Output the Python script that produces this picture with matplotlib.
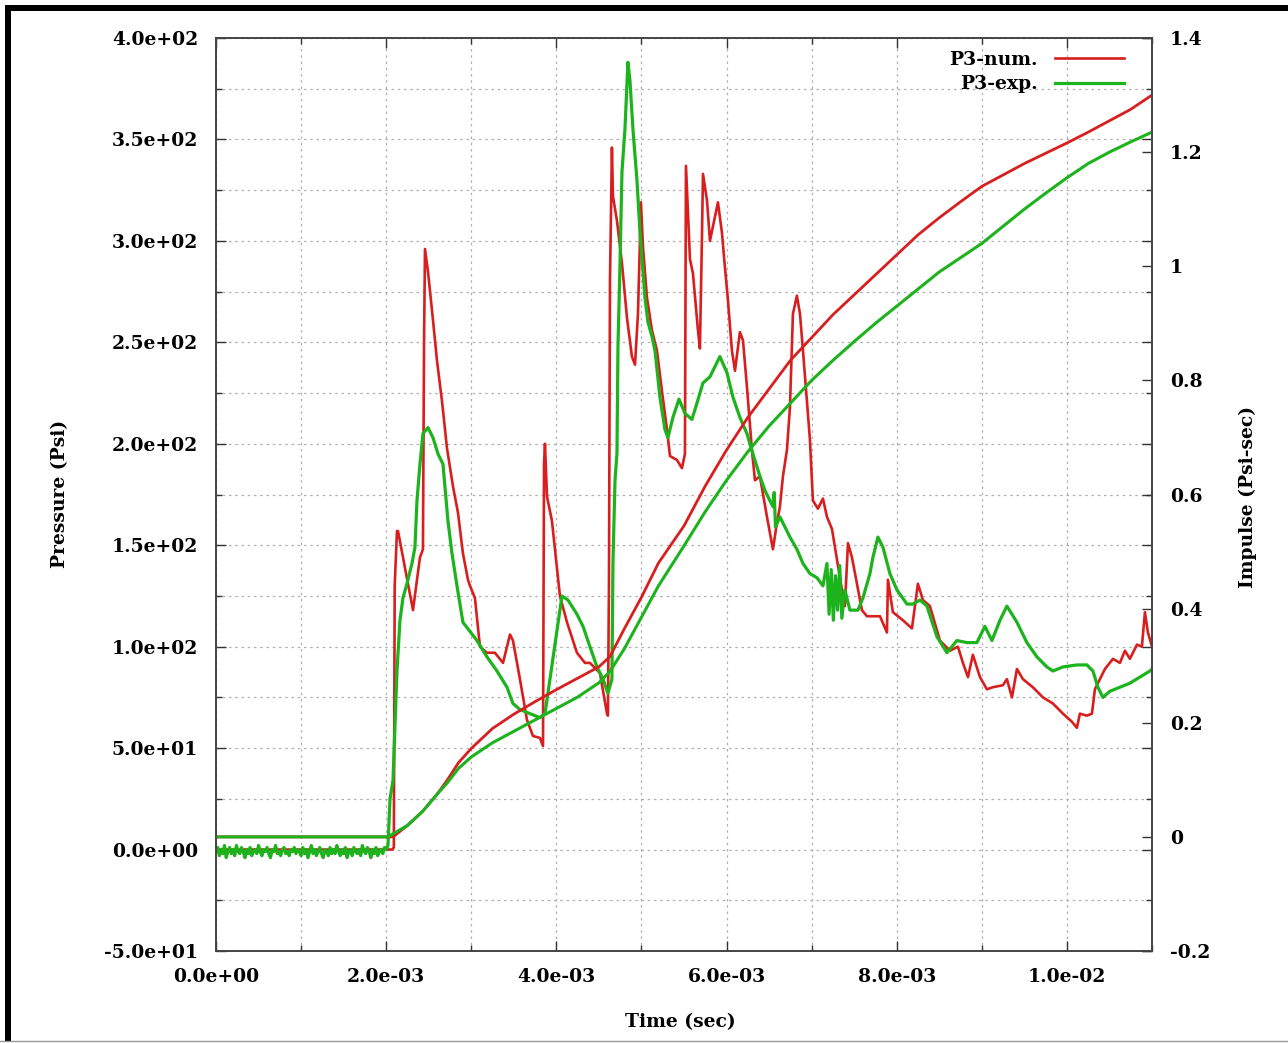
import numpy as np
import matplotlib.pyplot as plt
from matplotlib.ticker import MultipleLocator, FixedLocator, FuncFormatter
from matplotlib.patches import Rectangle
from matplotlib.lines import Line2D

plt.rcParams['font.family'] = 'DejaVu Serif'
plt.rcParams['font.weight'] = 'bold'

# (time [ms], pressure [psi])
p3_num = [(0.0, 0), (2.07, 0), (2.09, 1), (2.10, 130), (2.127, 157), (2.139, 157), (2.315, 118),
          (2.397, 144), (2.432, 148), (2.445, 250), (2.456, 296), (2.491, 285), (2.550, 261),
          (2.597, 241), (2.656, 221), (2.714, 198), (2.785, 179), (2.844, 166), (2.902, 146),
          (2.961, 133), (2.985, 130), (3.043, 124), (3.102, 100), (3.184, 97), (3.278, 97),
          (3.373, 92), (3.455, 106), (3.490, 103), (3.572, 84), (3.654, 64), (3.725, 56),
          (3.807, 55), (3.843, 51), (3.855, 190), (3.866, 200), (3.890, 174), (3.948, 162),
          (4.042, 125), (4.125, 112), (4.242, 97), (4.336, 92), (4.395, 92), (4.512, 87),
          (4.595, 67), (4.606, 66), (4.618, 130), (4.630, 280), (4.653, 346), (4.665, 322),
          (4.712, 310), (4.771, 289), (4.830, 262), (4.888, 243), (4.924, 239), (4.959, 264),
          (4.994, 319), (5.018, 297), (5.065, 272), (5.123, 256), (5.182, 246), (5.241, 226),
          (5.300, 207), (5.335, 194), (5.417, 192), (5.476, 188), (5.511, 195), (5.523, 337),
          (5.570, 291), (5.605, 284), (5.664, 256), (5.687, 247), (5.711, 302), (5.723, 333),
          (5.770, 320), (5.805, 300), (5.864, 312), (5.899, 319), (5.946, 304), (5.981, 287),
          (6.016, 271), (6.063, 246), (6.099, 236), (6.157, 255), (6.193, 251), (6.240, 228),
          (6.298, 197), (6.334, 182), (6.392, 184), (6.475, 164), (6.545, 148), (6.592, 161),
          (6.627, 169), (6.663, 184), (6.710, 197), (6.745, 218), (6.780, 264), (6.827, 273),
          (6.863, 264), (6.898, 246), (6.980, 202), (7.015, 172), (7.074, 168), (7.133, 173),
          (7.180, 164), (7.239, 158), (7.297, 143), (7.356, 128), (7.391, 120), (7.427, 151),
          (7.474, 144), (7.532, 131), (7.591, 118), (7.650, 115), (7.803, 115), (7.885, 107),
          (7.897, 133), (7.955, 117), (8.073, 113), (8.179, 109), (8.249, 131), (8.308, 123),
          (8.390, 120), (8.508, 103), (8.625, 98), (8.719, 100), (8.778, 92), (8.837, 85),
          (8.895, 96), (8.978, 85), (9.060, 79), (9.130, 80), (9.248, 81), (9.295, 84),
          (9.354, 75), (9.413, 89), (9.483, 84), (9.600, 80), (9.718, 75), (9.835, 72),
          (9.953, 67), (10.059, 63), (10.117, 60), (10.153, 67), (10.235, 66), (10.294, 67),
          (10.329, 79), (10.364, 82), (10.447, 89), (10.541, 94), (10.623, 92), (10.682, 98),
          (10.740, 94), (10.823, 101), (10.881, 100), (10.917, 117), (10.952, 107), (11.0, 100)]

# experiment: baseline noise before the shock arrives
p3_exp_base = [(0.00, -1), (0.02, 1), (0.04, -3), (0.06, 0), (0.08, -2), (0.10, 2), (0.12, -4),
               (0.14, -1), (0.16, 1), (0.18, -2), (0.20, 0), (0.22, -3), (0.24, 2), (0.26, -1),
               (0.28, -2), (0.30, 1), (0.32, -1), (0.34, -4), (0.36, 0), (0.38, -2), (0.40, 1),
               (0.42, -3), (0.44, -1), (0.46, 0), (0.48, -2), (0.50, 2), (0.52, -1), (0.54, -3),
               (0.56, 0), (0.58, -1), (0.60, 1), (0.62, -2), (0.64, -4), (0.66, 0), (0.68, -1),
               (0.70, 2), (0.72, -2), (0.74, -1), (0.76, -3), (0.78, 0), (0.80, 1), (0.82, -2),
               (0.84, -1), (0.86, -3), (0.88, 0), (0.90, -1), (0.92, 1), (0.94, -2), (0.96, 0),
               (0.98, -1), (1.00, -3), (1.02, 1), (1.04, -2), (1.06, 0), (1.08, -4), (1.10, -1),
               (1.12, 2), (1.14, -2), (1.16, 0), (1.18, -3), (1.20, -1), (1.22, 1), (1.24, -2),
               (1.26, -4), (1.28, 0), (1.30, -1), (1.32, -3), (1.34, 1), (1.36, -2), (1.38, 0),
               (1.40, -2), (1.42, 2), (1.44, -1), (1.46, -3), (1.48, 0), (1.50, -2), (1.52, 1),
               (1.54, -4), (1.56, -1), (1.58, 0), (1.60, -3), (1.62, 1), (1.64, -1), (1.66, -2),
               (1.68, 0), (1.70, -3), (1.72, 2), (1.74, -1), (1.76, -2), (1.78, 1), (1.80, -1),
               (1.82, -4), (1.84, 0), (1.86, -2), (1.88, 1), (1.90, -3), (1.92, -1), (1.94, 0),
               (1.96, -2), (1.98, 1), (2.00, 0)]

p3_exp = [(2.021, 2), (2.045, 25), (2.080, 34), (2.103, 60), (2.127, 88), (2.162, 113), (2.197, 124),
          (2.244, 131), (2.303, 141), (2.338, 149), (2.362, 172), (2.397, 190), (2.432, 205),
          (2.491, 208), (2.550, 203), (2.609, 195), (2.667, 190), (2.726, 162), (2.773, 146),
          (2.832, 130), (2.902, 112), (3.067, 103), (3.184, 95), (3.302, 88), (3.420, 80),
          (3.490, 72), (3.572, 69), (3.690, 67), (3.807, 65), (3.866, 67), (3.925, 84),
          (4.007, 108), (4.066, 125), (4.136, 123), (4.242, 116), (4.313, 110), (4.395, 100),
          (4.477, 90), (4.548, 84), (4.606, 77), (4.653, 84), (4.665, 141), (4.689, 182),
          (4.712, 195), (4.724, 248), (4.747, 287), (4.771, 334), (4.806, 355), (4.841, 388),
          (4.865, 379), (4.900, 355), (4.947, 330), (4.982, 305), (5.041, 272), (5.076, 260),
          (5.123, 253), (5.159, 246), (5.217, 223), (5.276, 207), (5.311, 203), (5.370, 213),
          (5.441, 222), (5.511, 215), (5.593, 212), (5.652, 220), (5.723, 230), (5.805, 233),
          (5.864, 238), (5.922, 243), (6.005, 235), (6.075, 223), (6.157, 213), (6.240, 205),
          (6.310, 195), (6.392, 184), (6.451, 177), (6.545, 169), (6.560, 176), (6.575, 159),
          (6.627, 164), (6.745, 154), (6.827, 148), (6.898, 141), (6.980, 136), (7.062, 134),
          (7.133, 130), (7.180, 141), (7.205, 116), (7.230, 138), (7.255, 113), (7.280, 135),
          (7.305, 118), (7.330, 140), (7.355, 114), (7.390, 128), (7.450, 118), (7.544, 118),
          (7.603, 124), (7.685, 136), (7.720, 144), (7.779, 154), (7.838, 149), (7.920, 136),
          (8.002, 128), (8.120, 121), (8.190, 121), (8.273, 123), (8.355, 120), (8.472, 105),
          (8.590, 97), (8.707, 103), (8.825, 102), (8.942, 102), (9.036, 110), (9.119, 103),
          (9.213, 113), (9.295, 120), (9.413, 112), (9.530, 102), (9.647, 95), (9.765, 90),
          (9.835, 88), (9.953, 90), (10.117, 91), (10.235, 91), (10.306, 88), (10.364, 80),
          (10.423, 75), (10.505, 78), (10.623, 80), (10.740, 82), (10.858, 85), (10.975, 88),
          (11.0, 89)]

# (time [ms], impulse [psi-sec])
imp_num = [(0.0, 0), (2.08, 0), (2.25, 0.02), (2.43, 0.045), (2.60, 0.075), (2.72, 0.10),
           (2.85, 0.13), (3.0, 0.155), (3.25, 0.19), (3.5, 0.215), (3.75, 0.237), (4.0, 0.258),
           (4.25, 0.278), (4.5, 0.298), (4.63, 0.316), (4.8, 0.365), (5.0, 0.42), (5.2, 0.48),
           (5.5, 0.545), (5.75, 0.615), (6.0, 0.678), (6.25, 0.735), (6.5, 0.785), (6.75, 0.835),
           (7.0, 0.875), (7.25, 0.915), (7.5, 0.95), (7.75, 0.985), (8.0, 1.02), (8.25, 1.055),
           (8.5, 1.085), (8.75, 1.113), (9.0, 1.14), (9.25, 1.16), (9.5, 1.18), (9.75, 1.198),
           (10.0, 1.216), (10.25, 1.235), (10.5, 1.255), (10.75, 1.275), (11.0, 1.30)]

imp_exp = [(0.0, 0), (2.02, 0), (2.25, 0.02), (2.43, 0.045), (2.60, 0.075), (2.72, 0.095),
           (2.85, 0.12), (3.0, 0.14), (3.25, 0.165), (3.5, 0.185), (3.75, 0.205), (4.0, 0.225),
           (4.25, 0.245), (4.5, 0.27), (4.63, 0.29), (4.8, 0.33), (5.0, 0.385), (5.2, 0.44),
           (5.5, 0.51), (5.75, 0.57), (6.0, 0.625), (6.25, 0.675), (6.5, 0.72), (6.75, 0.76),
           (7.0, 0.80), (7.25, 0.835), (7.5, 0.868), (7.75, 0.90), (8.0, 0.93), (8.25, 0.96),
           (8.5, 0.99), (8.75, 1.015), (9.0, 1.04), (9.25, 1.07), (9.5, 1.10), (9.75, 1.128),
           (10.0, 1.155), (10.25, 1.18), (10.5, 1.20), (10.75, 1.218), (11.0, 1.235)]

red = '#d81e1e'
green = '#1db31d'
fs = 13.5

W, H = 1288, 1043
fig = plt.figure(figsize=(W / 100, H / 100), dpi=100)
ax = fig.add_axes([216 / W, 1 - 951 / H, (1152 - 216) / W, (951 - 38) / H])
ax2 = ax.twinx()

t, p = np.array(p3_num).T
ax.plot(t * 1e-3, p, color=red, lw=1.9, label='P3-num.')
t, p = np.array(p3_exp_base + p3_exp).T
ax.plot(t * 1e-3, p, color=green, lw=2.3, label='P3-exp.')

t, i = np.array(imp_num).T
ax2.plot(t * 1e-3, i, color=red, lw=2.0)
t, i = np.array(imp_exp).T
ax2.plot(t * 1e-3, i, color=green, lw=2.2)

ax.set_xlim(0, 0.011)
ax.set_ylim(-50, 400)
ax2.set_ylim(-0.2, 1.4)

ax.xaxis.set_major_locator(MultipleLocator(0.002))
ax.xaxis.set_minor_locator(MultipleLocator(0.001))
ax.yaxis.set_major_locator(MultipleLocator(50))
ax.yaxis.set_minor_locator(MultipleLocator(25))
ax.xaxis.set_major_formatter(FuncFormatter(lambda v, pos: '%.1e' % v))
ax.yaxis.set_major_formatter(FuncFormatter(lambda v, pos: '%.1e' % v))
ax2.yaxis.set_major_locator(FixedLocator([-0.2, 0, 0.2, 0.4, 0.6, 0.8, 1.0, 1.2, 1.4]))
ax2.yaxis.set_major_formatter(FuncFormatter(lambda v, pos: '%g' % round(v, 2)))

ax.tick_params(which='both', direction='in', top=True, right=True, color='#333333')
ax.tick_params(which='major', length=7, width=1, labelsize=fs, pad=13)
ax.tick_params(which='minor', length=4.5, width=1)
ax.tick_params(axis='x', pad=12)
ax2.tick_params(which='major', direction='in', length=7, width=1, labelsize=fs, pad=13, color='#333333')

ax.grid(True, which='both', color='#b0b0b0', linestyle=(0, (2, 3)), linewidth=0.9)
ax.set_axisbelow(True)
for a in (ax, ax2):
    for s in a.spines.values():
        s.set_color('#444444')
        s.set_linewidth(1.2)

ax2.legend(handles=ax.get_lines(), loc='upper right', bbox_to_anchor=(0.970, 0.986),
           frameon=False, markerfirst=False, fontsize=fs, borderpad=0, borderaxespad=0,
           handlelength=3.7, handletextpad=0.9, labelspacing=0.35)

fig.text(60 / W, 1 - 494 / H, 'Pressure (Psi)', rotation=90, ha='center', va='center', fontsize=fs)
fig.text(1248 / W, 1 - 497 / H, 'Impulse (Psi-sec)', rotation=90, ha='center', va='center', fontsize=fs)
fig.text(680 / W, 1 - 1022 / H, 'Time (sec)', ha='center', va='center', fontsize=fs)

# frame of the original screenshot
fig.add_artist(Rectangle((5 / W, 1 - 11 / H), 1 - 5 / W, 6 / H, transform=fig.transFigure,
                         color='black', lw=0))
fig.add_artist(Rectangle((5 / W, 2 / H), 6 / W, 1 - 7 / H, transform=fig.transFigure,
                         color='black', lw=0))
fig.add_artist(Line2D([0, 1], [2 / H, 2 / H], transform=fig.transFigure, color='#999999', lw=1))

fig.savefig('out.png', dpi=100)
